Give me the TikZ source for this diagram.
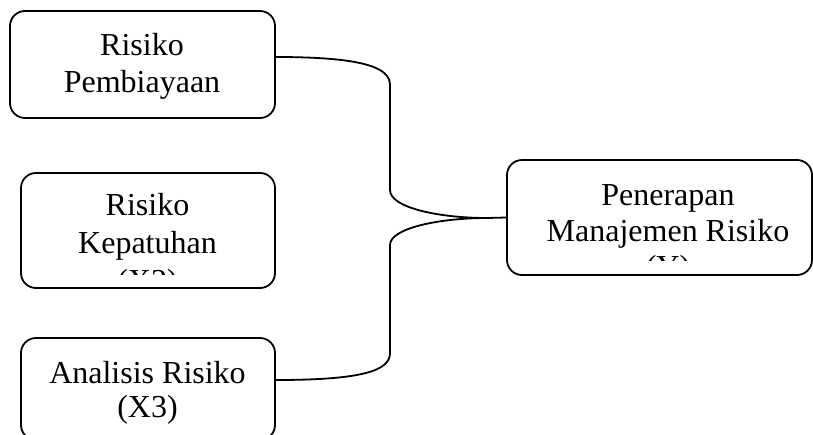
\documentclass[tikz,border=0pt]{standalone}
\usepackage{fontspec}
\setmainfont{Liberation Serif}
\usepackage{tikz}

\tikzset{
  kotak/.style={draw, line width=1.8pt, rounded corners=15pt, inner sep=0pt},
  isi/.style={inner sep=0pt, anchor=north, align=center},
  garis/.style={line width=1.8pt},
}
\newcommand{\huruf}[1]{\fontsize{32}{#1}\selectfont}

\begin{document}
\begin{tikzpicture}[x=1pt,y=-1pt]
    \useasboundingbox (0,0) rectangle (813,434);

    % kotak variabel
    \node[kotak, minimum width=265pt, minimum height=107pt] (pembiayaan) at (142.5,64.5) {};
    \node[kotak, minimum width=254pt, minimum height=115pt] (kepatuhan) at (148,230.5) {};
    \node[kotak, minimum width=254pt, minimum height=102pt] (analisis) at (148,389) {};
    \node[kotak, minimum width=305pt, minimum height=115pt] (penerapan) at (659.5,217.5) {};

    % teks
    \node[isi, font=\huruf{37}] (t-pembiayaan) at (142,33.5) {Risiko\\Pembiayaan};
    \begin{scope}
      \clip (21,173) rectangle (275,274);
      \node[isi, font=\huruf{38}] (t-kepatuhan) at (147.5,193.5) {Risiko\\Kepatuhan\\(X2)};
    \end{scope}
    \node[isi, font=\huruf{33.5}] (t-analisis) at (147.5,361.5) {Analisis Risiko\\(X3)};
    \begin{scope}
      \clip (507,160) rectangle (812,260);
      \node[isi, font=\huruf{36}] (t-penerapan) at (668,184) {Penerapan\\Manajemen Risiko\\(Y)};
    \end{scope}

    % kurung penghubung
    \coordinate (temu) at (487,218);
    \draw[garis] ([yshift=7.5pt]pembiayaan.east) .. controls (365,57) and (390,68) .. (390,85)
        -- (390,190) .. controls (390,208) and (440,218) .. (temu) -- (penerapan.west);
    \draw[garis] ([yshift=9pt]analisis.east) .. controls (365,380) and (390,370) .. (390,353)
        -- (390,245) .. controls (390,228) and (440,218) .. (temu);
\end{tikzpicture}
\end{document}
